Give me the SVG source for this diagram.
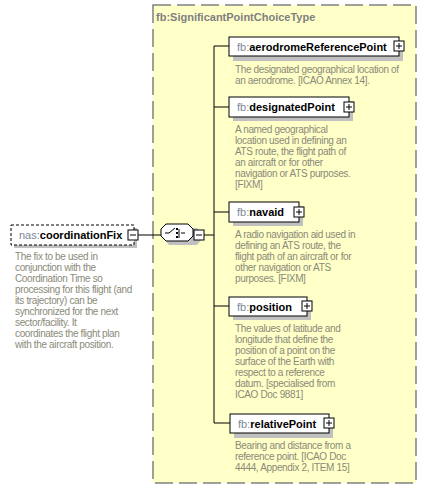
<svg xmlns="http://www.w3.org/2000/svg" width="428" height="489" viewBox="0 0 428 489">
<style>
.frame{fill:#ffffc8;stroke:#808080;stroke-width:1.5;stroke-dasharray:18,6}
.box{fill:#fff;stroke:#000;stroke-width:1}
.shadow{fill:#c0c0c0}
.btn{fill:#fff;stroke:#000;stroke-width:1}
.ln{stroke:#000;stroke-width:1;fill:none}
.ns{fill:#7a8898;font-family:"Liberation Sans",Arial,sans-serif;font-size:11px}
.nm{fill:#000;font-family:"Liberation Sans",Arial,sans-serif;font-size:11px;font-weight:bold}
.doc{fill:#8a8a78;font-family:"Liberation Sans",Arial,sans-serif;font-size:10px;letter-spacing:-0.35px}
.title{fill:#808080;font-family:"Liberation Sans",Arial,sans-serif;font-size:11px;font-weight:bold}
</style>
<defs>
<g id="plus"><rect class="btn" x="0" y="0" width="10" height="10"/><path class="ln" d="M2,5H8M5,2V8"/></g>
<g id="minus"><rect class="btn" x="0" y="0" width="10" height="10"/><path class="ln" d="M2,5H8"/></g>
</defs>
<g id="frame">
<rect class="frame" x="153" y="5" width="263" height="478"/>
<text class="title" x="156" y="21">fb:SignificantPointChoiceType</text>
</g>
<g id="connectors">
<path class="ln" d="M137,235H161"/>
<path class="ln" d="M204,235H214"/>
<path class="ln" d="M214,46V423"/>
<path class="ln" d="M214,46H229M214,107H229M214,212H229M214,306H229M214,423H230"/>
</g>
<g id="coordinationFix">
<rect class="shadow" x="14" y="228" width="123" height="20"/>
<rect x="11" y="225" width="123" height="20" fill="#fff" stroke="#000" stroke-dasharray="3,2"/>
<text x="19" y="239"><tspan class="ns">nas:</tspan><tspan class="nm">coordinationFix</tspan></text>
<use href="#minus" x="128" y="230"/>
<text class="doc"><tspan x="15" y="260">The fix to be used in</tspan><tspan x="15" y="271">conjunction with the</tspan><tspan x="15" y="282">Coordination Time so</tspan><tspan x="15" y="293">processing for this flight (and</tspan><tspan x="15" y="304">its trajectory) can be</tspan><tspan x="15" y="315">synchronized for the next</tspan><tspan x="15" y="326">sector/facility.  It</tspan><tspan x="15" y="337">coordinates   the flight plan</tspan><tspan x="15" y="348">with the aircraft position.</tspan></text>
</g>
<g id="choice">
<path class="shadow" d="M169,228H197L201,233V240L197,245H169L165,240V233Z"/>
<path d="M166,224H188L193,229V236L188,241H166L161,236V229Z" fill="#fff" stroke="#000"/>
<path class="ln" d="M165,233H169L175,228M181,233H185M179,229V238"/>
<rect x="176" y="228" width="2" height="2" fill="#000"/>
<rect x="176" y="232" width="2" height="2" fill="#000"/>
<rect x="176" y="236" width="2" height="2" fill="#000"/>
<use href="#minus" x="194" y="230"/>
</g>
<g id="aerodromeReferencePoint">
<rect class="shadow" x="233" y="41" width="170" height="20"/>
<rect class="box" x="229" y="37" width="170" height="19"/>
<text x="237" y="51"><tspan class="ns">fb:</tspan><tspan class="nm">aerodromeReferencePoint</tspan></text>
<use href="#plus" x="394" y="41"/>
<text class="doc"><tspan x="235" y="73">The designated geographical location of</tspan><tspan x="235" y="84">an aerodrome. [ICAO Annex 14].</tspan></text>
</g>
<g id="designatedPoint">
<rect class="shadow" x="233" y="101" width="120" height="20"/>
<rect class="box" x="229" y="97" width="120" height="20"/>
<text x="237" y="111"><tspan class="ns">fb:</tspan><tspan class="nm">designatedPoint</tspan></text>
<use href="#plus" x="344" y="102"/>
<text class="doc"><tspan x="235" y="133">A named geographical</tspan><tspan x="235" y="144">location used in defining an</tspan><tspan x="235" y="155">ATS route, the flight path of</tspan><tspan x="235" y="166">an aircraft or for other</tspan><tspan x="235" y="177">navigation or ATS purposes.</tspan><tspan x="235" y="188">[FIXM]</tspan></text>
</g>
<g id="navaid">
<rect class="shadow" x="233" y="206" width="70" height="20"/>
<rect class="box" x="229" y="202" width="70" height="20"/>
<text x="237" y="216"><tspan class="ns">fb:</tspan><tspan class="nm">navaid</tspan></text>
<use href="#plus" x="294" y="207"/>
<text class="doc"><tspan x="235" y="238">A radio navigation aid used in</tspan><tspan x="235" y="249">defining an ATS route, the</tspan><tspan x="235" y="260">flight path of an aircraft or for</tspan><tspan x="235" y="271">other navigation or ATS</tspan><tspan x="235" y="282">purposes. [FIXM]</tspan></text>
</g>
<g id="position">
<rect class="shadow" x="233" y="300" width="78" height="20"/>
<rect class="box" x="229" y="297" width="78" height="19"/>
<text x="237" y="311"><tspan class="ns">fb:</tspan><tspan class="nm">position</tspan></text>
<use href="#plus" x="302" y="301"/>
<text class="doc"><tspan x="235" y="332">The values of latitude and</tspan><tspan x="235" y="343">longitude that define the</tspan><tspan x="235" y="354">position of a point on the</tspan><tspan x="235" y="365">surface of the Earth with</tspan><tspan x="235" y="376">respect to a reference</tspan><tspan x="235" y="387">datum. [specialised from</tspan><tspan x="235" y="398">ICAO Doc 9881]</tspan></text>
</g>
<g id="relativePoint">
<rect class="shadow" x="234" y="418" width="99" height="20"/>
<rect class="box" x="230" y="414" width="99" height="19"/>
<text x="238" y="428"><tspan class="ns">fb:</tspan><tspan class="nm">relativePoint</tspan></text>
<use href="#plus" x="324" y="418"/>
<text class="doc"><tspan x="235" y="449">Bearing and distance from a</tspan><tspan x="235" y="460">reference point. [ICAO Doc</tspan><tspan x="235" y="471">4444, Appendix 2, ITEM 15]</tspan></text>
</g>
</svg>
